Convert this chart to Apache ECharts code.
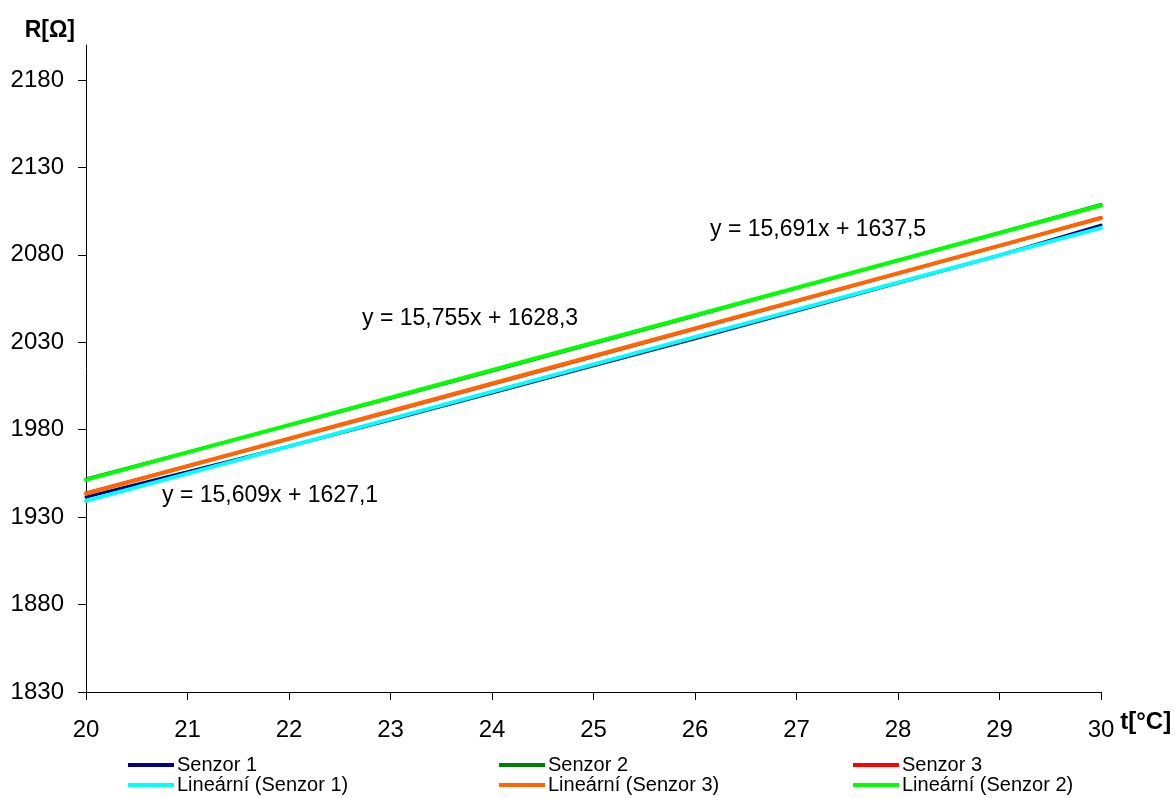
<!DOCTYPE html>
<html>
<head>
<meta charset="utf-8">
<script src="https://cdn.jsdelivr.net/npm/echarts@6/dist/echarts.min.js"></script>
<style>
html,body{margin:0;padding:0;background:#fff;}
#main{width:1175px;height:798px;}
</style>
</head>
<body>
<div id="main"></div>
<script>
// ---- data ----
const temps = [20, 21, 22, 23, 24, 25, 26, 27, 28, 29, 30];
const senzor1 = [1941.5, 1956.0, 1970.5, 1985.5, 2001.0, 2016.5, 2032.0, 2047.8, 2063.8, 2079.8, 2097.0];
const senzor2 = [1951.8, 1967.2, 1982.5, 1998.0, 2013.6, 2029.3, 2045.0, 2061.0, 2076.8, 2092.6, 2108.8];
const senzor3 = [1943.8, 1959.2, 1974.6, 1990.2, 2005.9, 2021.7, 2037.5, 2053.4, 2069.3, 2085.2, 2101.4];
const fitX = [20, 30];
const fit1 = [1939.3, 2095.4];
const fit2 = [1951.3, 2108.2];
const fit3 = [1943.4, 2101.0];
const yTicks = [1830, 1880, 1930, 1980, 2030, 2080, 2130, 2180];
const seriesNames = ['Senzor 1', 'Senzor 2', 'Senzor 3', 'Lineární (Senzor 1)', 'Lineární (Senzor 3)', 'Lineární (Senzor 2)'];
const eqLabels = ['y = 15,609x + 1627,1', 'y = 15,755x + 1628,3', 'y = 15,691x + 1637,5'];

const FONT = '"Liberation Sans", Arial, sans-serif';
const pair = (xs, ys) => xs.map((x, i) => [x, ys[i]]);

function line(name, xs, ys, color, width) {
  return {
    name: name, type: 'line', data: pair(xs, ys),
    showSymbol: false, symbol: 'none', animation: false,
    lineStyle: { color: color, width: width, cap: 'round', join: 'round' },
    itemStyle: { color: color }
  };
}

const chart = echarts.init(document.getElementById('main'), null, { renderer: 'canvas' });
const legendBase = {
  orient: 'vertical', top: 755, itemWidth: 46, itemHeight: 4, itemGap: 0,
  icon: 'rect', padding: 0,
  textStyle: { fontFamily: FONT, fontSize: 20, color: '#000', padding: [0, 0, 0, -2] },
  selectedMode: false
};
chart.setOption({
  backgroundColor: '#fff',
  animation: false,
  textStyle: { fontFamily: FONT },
  grid: { left: 86, right: 74, top: 45, bottom: 106, containLabel: false },
  xAxis: {
    type: 'value', min: 20, max: 30, interval: 1,
    name: 't[°C]', nameLocation: 'end', nameGap: 16,
    nameTextStyle: { fontFamily: FONT, fontSize: 24, fontWeight: 'bold', color: '#000', verticalAlign: 'top', padding: [18, 0, 0, 0] },
    axisLine: { lineStyle: { color: '#000', width: 1 } },
    axisTick: { inside: false, length: 8, lineStyle: { color: '#000' } },
    axisLabel: { fontFamily: FONT, fontSize: 24, color: '#000', margin: 26 },
    splitLine: { show: false }
  },
  yAxis: {
    type: 'value', min: 1830, max: 2200,
    name: 'R[Ω]', nameLocation: 'end', nameGap: 3,
    nameTextStyle: { fontFamily: FONT, fontSize: 23, fontWeight: 'bold', color: '#000', align: 'right', padding: [0, 11, 0, 0] },
    axisLine: { show: true, lineStyle: { color: '#000', width: 1 } },
    axisTick: { show: true, inside: false, length: 8, lineStyle: { color: '#000' }, customValues: yTicks },
    axisLabel: { fontFamily: FONT, fontSize: 24, color: '#000', margin: 22, customValues: yTicks, formatter: v => String(v) },
    splitLine: { show: false }
  },
  legend: [
    Object.assign({}, legendBase, { left: 128, data: [seriesNames[0], seriesNames[3]] }),
    Object.assign({}, legendBase, { left: 499, data: [seriesNames[1], seriesNames[4]] }),
    Object.assign({}, legendBase, { left: 853, data: [seriesNames[2], seriesNames[5]] })
  ],
  series: [
    line(seriesNames[0], temps, senzor1, '#000080', 3),
    line(seriesNames[1], temps, senzor2, '#008000', 3),
    line(seriesNames[2], temps, senzor3, '#FF0000', 3),
    line(seriesNames[3], fitX, fit1, '#00FFFF', 4),
    line(seriesNames[4], fitX, fit3, '#FF6600', 4),
    line(seriesNames[5], fitX, fit2, '#00FF00', 4)
  ],
  graphic: [
    { type: 'text', left: 162, top: 484, style: { text: eqLabels[0], font: '23px ' + FONT, fill: '#000' } },
    { type: 'text', left: 362, top: 307, style: { text: eqLabels[1], font: '23px ' + FONT, fill: '#000' } },
    { type: 'text', left: 710, top: 218, style: { text: eqLabels[2], font: '23px ' + FONT, fill: '#000' } }
  ]
});
</script>
</body>
</html>
